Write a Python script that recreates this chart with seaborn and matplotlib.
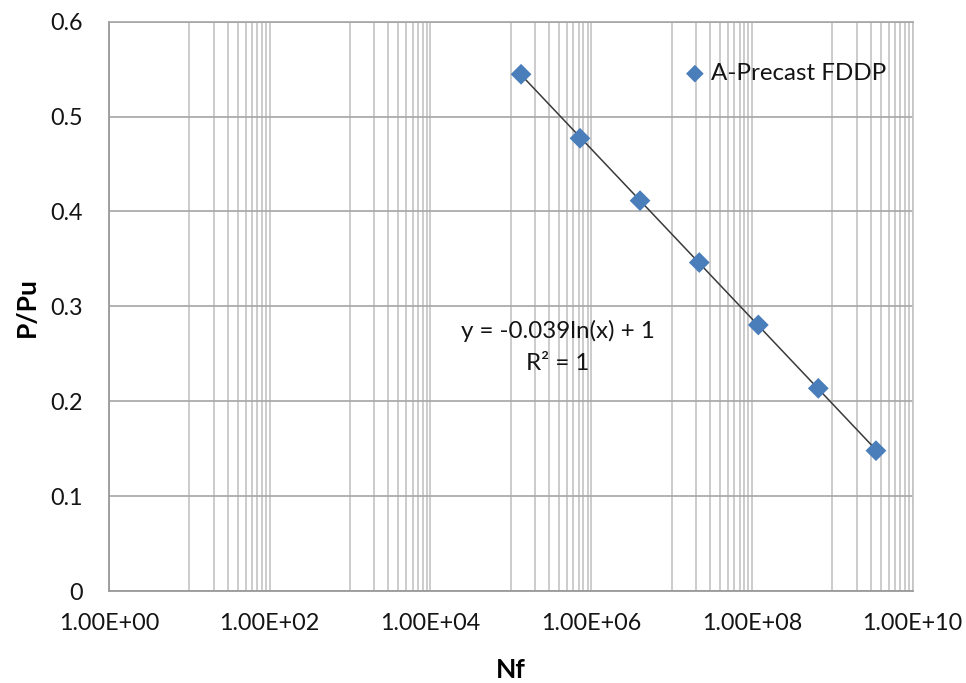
import numpy as np
import pandas as pd
import matplotlib
matplotlib.use("Agg")
import matplotlib.pyplot as plt
from matplotlib.ticker import FixedLocator, FuncFormatter, MultipleLocator
import seaborn as sns

# ---- data ----
nf_cycles = [1.34e5, 7.25e5, 4.05e6, 2.21e7, 1.20e8, 6.69e8, 3.49e9]
p_over_pu = [0.5446, 0.4771, 0.4114, 0.3462, 0.2804, 0.2136, 0.1479]
series_name = "A-Precast FDDP"
equation_lines = ["y = -0.039ln(x) + 1", "R\u00b2 = 1"]
x_major_ticks = [1e0, 1e2, 1e4, 1e6, 1e8, 1e10]

df = pd.DataFrame({"Nf": nf_cycles, "P/Pu": p_over_pu})

sns.set_style("white")
plt.rcParams["font.family"] = ["Lato", "DejaVu Sans"]

fig = plt.figure(figsize=(9.66, 6.83), dpi=100)
ax = fig.add_axes([109 / 966, 1 - 591 / 683, (912.7 - 109) / 966, (591 - 21.7) / 683])

marker_color = "#4A7EBB"
grid_h = "#A6A6A6"
grid_v = "#C4C4C4"
text_color = "#141414"
fs_tick = 16.8
fs_text = 17.4

# logarithmic trendline (straight on a log-x axis)
slope, intercept = np.polyfit(np.log(df["Nf"]), df["P/Pu"], 1)
xs = np.logspace(np.log10(df["Nf"].min()), np.log10(df["Nf"].max()), 50)
trend = pd.DataFrame({"x": xs, "y": slope * np.log(xs) + intercept})
sns.lineplot(data=trend, x="x", y="y", color="#3A3A3A", linewidth=1.1, ax=ax,
             legend=False, zorder=3)

sns.scatterplot(data=df, x="Nf", y="P/Pu", marker="D", s=112, color=marker_color,
                edgecolor="none", linewidth=0, label=series_name, ax=ax, zorder=4)

ax.set_xscale("log")
ax.set_xlim(1, 1e10)
ax.set_ylim(0, 0.6)

ax.xaxis.set_major_locator(FixedLocator(x_major_ticks))
minor_x = [m * 10.0 ** (2 * k + 1) for k in range(5) for m in range(1, 10)]
ax.xaxis.set_minor_locator(FixedLocator(minor_x))
ax.xaxis.set_major_formatter(FuncFormatter(lambda v, p: f"{v:.2E}"))
ax.xaxis.set_minor_formatter(FuncFormatter(lambda v, p: ""))

ax.yaxis.set_major_locator(MultipleLocator(0.1))
ax.yaxis.set_minor_locator(MultipleLocator(0.02))
ax.yaxis.set_major_formatter(FuncFormatter(lambda v, p: f"{v:g}"))

ax.grid(False)
ax.grid(True, which="major", axis="y", color=grid_h, linewidth=1.2, zorder=0)
ax.grid(True, which="major", axis="x", color=grid_v, linewidth=1.2, zorder=0)
ax.grid(True, which="minor", axis="x", color=grid_v, linewidth=1.2, zorder=0)
ax.set_axisbelow(True)

ax.tick_params(axis="x", which="both", length=0, pad=16, labelsize=fs_tick, labelcolor=text_color)
ax.tick_params(axis="y", which="major", length=0, pad=19, labelsize=fs_tick, labelcolor=text_color)
ax.tick_params(axis="y", which="minor", length=5, width=1.2, direction="in", color=grid_h)

for side in ["left", "bottom"]:
    ax.spines[side].set_color("#9A9A9A")
    ax.spines[side].set_linewidth(1.3)
ax.spines["top"].set_color(grid_h)
ax.spines["top"].set_linewidth(1.2)
ax.spines["right"].set_color(grid_v)
ax.spines["right"].set_linewidth(1.2)

ax.set_xlabel("")
ax.set_ylabel("")
fig.text(27 / 966, 1 - 307 / 683, "P/Pu", rotation=90, ha="center", va="center",
         fontsize=19, fontweight="bold", color="#000000")
fig.text(511 / 966, 1 - 670 / 683, "Nf", ha="center", va="center",
         fontsize=19, fontweight="bold", color="#000000")

ax.text(558 / 966, 1 - 331 / 683, equation_lines[0], transform=fig.transFigure,
        ha="center", va="center", fontsize=fs_text, color=text_color)
ax.text(558 / 966, 1 - 363 / 683, equation_lines[1], transform=fig.transFigure,
        ha="center", va="center", fontsize=fs_text, color=text_color)

leg = ax.legend(loc="center left", bbox_to_anchor=(684 / 966, 1 - 73.5 / 683),
                bbox_transform=fig.transFigure, frameon=False, fontsize=fs_text,
                borderpad=0, borderaxespad=0, handlelength=0.9, handletextpad=0.2,
                markerscale=0.85)
for t in leg.get_texts():
    t.set_color(text_color)

fig.savefig("out.png", dpi=100)
